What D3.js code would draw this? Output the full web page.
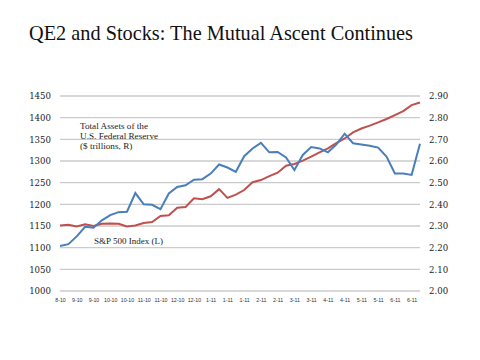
<!DOCTYPE html>
<html><head><meta charset="utf-8">
<script src="https://cdn.jsdelivr.net/npm/d3@7"></script>
<style>body{margin:0;background:#fff}svg{display:block}</style>
</head><body><svg id="c" width="480" height="360"></svg>
<script>
const categories = ["8-10","8-10","9-10","9-10","9-10","10-10","10-10","10-10","10-10","10-10","11-10","11-10","11-10","11-10","12-10","12-10","12-10","12-10","1-11","1-11","1-11","1-11","1-11","1-11","2-11","2-11","2-11","2-11","3-11","3-11","3-11","3-11","4-11","4-11","4-11","4-11","5-11","5-11","5-11","5-11","6-11","6-11","6-11","6-11"];
const tickLabels = ["8-10","9-10","9-10","10-10","10-10","11-10","11-10","12-10","12-10","1-11","1-11","1-11","2-11","2-11","3-11","3-11","4-11","4-11","5-11","5-11","6-11","6-11"];
const sp500 = [1104,1108,1126,1148,1146,1163,1175,1182,1183,1226,1200,1199,1189,1225,1240,1244,1257,1258,1271,1292,1285,1275,1311,1329,1342,1320,1321,1308,1279,1314,1332,1329,1320,1338,1363,1341,1338,1335,1331,1310,1271,1271,1268,1340];
const fedAssets = [2.302,2.306,2.298,2.308,2.300,2.310,2.312,2.310,2.298,2.302,2.314,2.318,2.346,2.350,2.384,2.388,2.428,2.424,2.437,2.470,2.430,2.445,2.466,2.502,2.512,2.530,2.546,2.578,2.586,2.602,2.620,2.640,2.658,2.682,2.704,2.732,2.750,2.763,2.778,2.794,2.812,2.830,2.858,2.870];
const leftTicks = [1000,1050,1100,1150,1200,1250,1300,1350,1400,1450];
const rightTicks = [2.00,2.10,2.20,2.30,2.40,2.50,2.60,2.70,2.80,2.90];

const svg = d3.select("#c");
const L = 60, R = 420, T = 96, B = 291;
const x = d3.scalePoint().domain(d3.range(categories.length)).range([L, R]);
const yL = d3.scaleLinear().domain([1000,1450]).range([B, T]);
const yR = d3.scaleLinear().domain([2.00,2.90]).range([B, T]);

svg.append("text").attr("x",29).attr("y",40).attr("font-family","'Liberation Serif', serif")
  .attr("font-size",21).attr("fill","#111").attr("textLength",384).attr("lengthAdjust","spacingAndGlyphs")
  .text("QE2 and Stocks: The Mutual Ascent Continues");

// gridlines
svg.append("g").selectAll("line").data(leftTicks).join("line")
  .attr("x1",L).attr("x2",R).attr("y1",d=>yL(d)).attr("y2",d=>yL(d))
  .attr("stroke","#cbcbcb").attr("stroke-width",1.3);

// left axis
const la = svg.append("g").attr("transform",`translate(${L},0)`)
  .call(d3.axisLeft(yL).tickValues(leftTicks).tickSize(0).tickPadding(9).tickFormat(d3.format("d")));
la.select(".domain").remove();
la.selectAll("text").attr("font-family","'DejaVu Serif', serif").attr("font-size",8.6).attr("fill","#222");

// right axis
const ra = svg.append("g").attr("transform",`translate(${R},0)`)
  .call(d3.axisRight(yR).tickValues(rightTicks).tickSize(0).tickPadding(9).tickFormat(d3.format(".2f")));
ra.select(".domain").remove();
ra.selectAll("text").attr("font-family","'DejaVu Serif', serif").attr("font-size",8.6).attr("fill","#222");

// x axis
const xa = svg.append("g").attr("transform",`translate(0,${B})`)
  .call(d3.axisBottom(x).tickValues(d3.range(0,categories.length,2)).tickSize(0).tickPadding(7)
    .tickFormat(i=>tickLabels[i/2]));
xa.select(".domain").remove();
xa.selectAll("text").attr("font-family","'Liberation Sans', sans-serif").attr("font-size",5.3).attr("fill","#333");

// lines
svg.append("path").datum(fedAssets)
  .attr("d", d3.line().x((d,i)=>x(i)).y(d=>yR(d)))
  .attr("fill","none").attr("stroke","#c0504d").attr("stroke-width",2);
svg.append("path").datum(sp500)
  .attr("d", d3.line().x((d,i)=>x(i)).y(d=>yL(d)))
  .attr("fill","none").attr("stroke","#4a7ebb").attr("stroke-width",2);

// annotations
const ann = [["Total Assets of the",80,129],["U.S. Federal Reserve",80,139],["($ trillions, R)",80,149]];
svg.append("g").selectAll("text").data(ann).join("text")
  .attr("x",d=>d[1]).attr("y",d=>d[2]).text(d=>d[0])
  .attr("font-family","'Liberation Serif', serif").attr("font-size",9.2).attr("fill","#222");
svg.append("text").attr("x",94).attr("y",244).text("S&P 500 Index (L)")
  .attr("font-family","'Liberation Serif', serif").attr("font-size",9).attr("fill","#222");
</script></body></html>
